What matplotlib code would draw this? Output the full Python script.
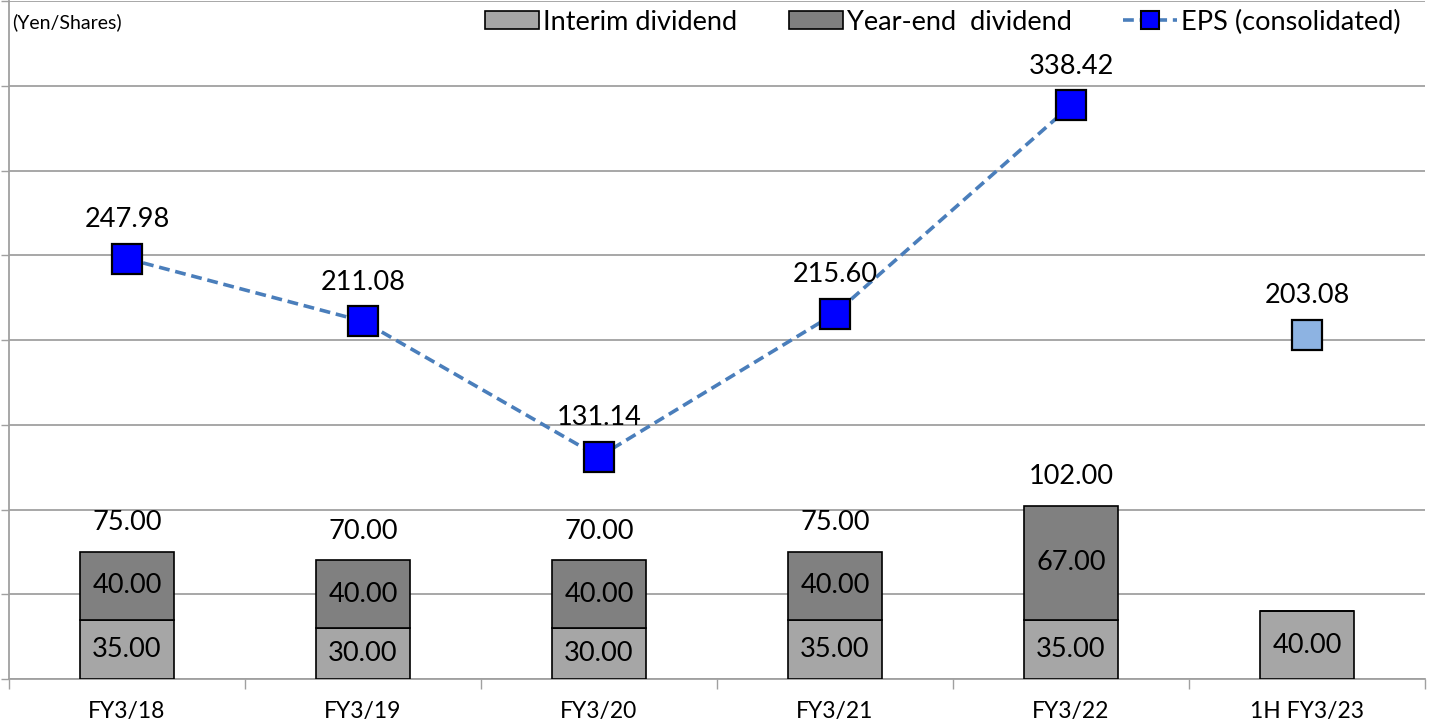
import numpy as np
import matplotlib
matplotlib.use("Agg")
import matplotlib.pyplot as plt
from matplotlib.lines import Line2D
from matplotlib.patches import Patch

plt.rcParams["font.family"] = ["Lato", "DejaVu Sans"]

periods = ["FY3/18", "FY3/19", "FY3/20", "FY3/21", "FY3/22", "1H FY3/23"]
interim = [35.00, 30.00, 30.00, 35.00, 35.00, 40.00]
year_end = [40.00, 40.00, 40.00, 40.00, 67.00, None]
eps = [247.98, 211.08, 131.14, 215.60, 338.42, 203.08]

INTERIM_C = "#a6a6a6"
YEAREND_C = "#808080"
EPS_C = "#0000ff"
EPS_HALF_C = "#8db3e2"
LINE_C = "#4a7ebb"
GRID_C = "#a0a0a0"

W, H = 1432, 724
fig = plt.figure(figsize=(W / 100, H / 100), dpi=100)
ax = fig.add_axes([9 / W, (H - 679) / H, (1425 - 9) / W, 678 / H])

x = np.arange(len(periods))
bw = 0.4
ye = [v if v is not None else 0 for v in year_end]
ax.bar(x, interim, bw, color=INTERIM_C, edgecolor="black", lw=1.2, zorder=3)
ax.bar(x, ye, bw, bottom=interim, color=YEAREND_C, edgecolor="black", lw=1.2, zorder=3)

fs = 19.5
for i in range(len(periods)):
    ax.text(x[i], interim[i] / 2, f"{interim[i]:.2f}", ha="center", va="center",
            fontsize=fs, zorder=5)
    if year_end[i] is not None:
        ax.text(x[i], interim[i] + year_end[i] / 2, f"{year_end[i]:.2f}",
                ha="center", va="center", fontsize=fs, zorder=5)
        total = interim[i] + year_end[i]
        ax.annotate(f"{total:.2f}", (x[i], total), xytext=(0, 21),
                    textcoords="offset points", ha="center", va="center",
                    fontsize=fs, zorder=5)

# full-year EPS is joined by the dashed line; the half-year figure stands alone
ax.plot(x[:5], eps[:5], ls=(0, (3, 1.6)), color=LINE_C, lw=2.6, zorder=4)
ax.plot(x[:5], eps[:5], ls="none", marker="s", ms=21, mfc=EPS_C, mec="black",
        mew=1.6, zorder=6)
ax.plot(x[5:], eps[5:], ls="none", marker="s", ms=21, mfc=EPS_HALF_C, mec="black",
        mew=1.6, zorder=6)
for xi, v in zip(x, eps):
    ax.annotate(f"{v:.2f}", (xi, v), xytext=(0, 28), textcoords="offset points",
                ha="center", va="center", fontsize=fs, zorder=6)

ax.set_xlim(-0.5, len(periods) - 0.5)
ax.set_ylim(0, 400)
ax.set_yticks(np.arange(0, 401, 50))
ax.set_yticklabels([])
ax.yaxis.grid(True, color=GRID_C, lw=1.3, zorder=0)
ax.tick_params(axis="y", length=6, width=1, color=GRID_C, direction="out")

ax.set_xticks(x)
ax.set_xticklabels(periods, fontsize=16.5)
ax.tick_params(axis="x", length=0, pad=16)
ax.set_xticks(np.arange(-0.5, len(periods), 1), minor=True)
ax.tick_params(axis="x", which="minor", length=7, width=1, color=GRID_C)

for s in ["top", "right"]:
    ax.spines[s].set_visible(False)
ax.spines["left"].set_color(GRID_C)
ax.spines["bottom"].set_color(GRID_C)
ax.spines["left"].set_linewidth(1.3)
ax.spines["bottom"].set_linewidth(1.3)

fig.text(12 / W, 1 - 22 / H, "(Yen/Shares)", ha="left", va="center", fontsize=14)

handles = [
    Patch(facecolor=INTERIM_C, edgecolor="black", lw=1.2),
    Patch(facecolor=YEAREND_C, edgecolor="black", lw=1.2),
    Line2D([], [], color=LINE_C, ls=(0, (3, 1.6)), lw=2.6, marker="s", ms=13,
           mfc=EPS_C, mec="black", mew=1.5),
]
labels = ["Interim dividend", "Year-end  dividend", "EPS (consolidated)"]
fig.legend(handles, labels, loc="center right", bbox_to_anchor=(1401 / W, 1 - 22 / H),
           ncol=3, frameon=False, fontsize=fs, handlelength=2.0, handleheight=0.6,
           handletextpad=0.15, columnspacing=1.9, borderaxespad=0, borderpad=0)

fig.savefig("out.png", dpi=100)
